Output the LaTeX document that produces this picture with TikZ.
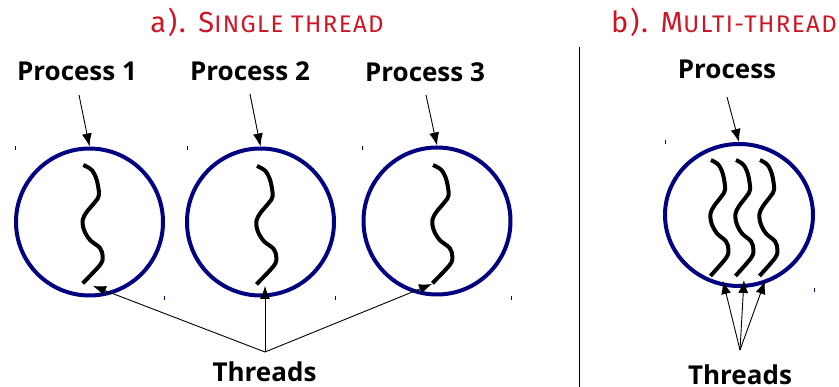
\documentclass[tikz,border=0pt]{standalone}
\usepackage{fontspec}
\usetikzlibrary{arrows.meta,shapes.geometric}
\newfontfamily\labfont{Open Sans}
\newfontfamily\headfont{Fira Sans}[LetterSpace=6]
\definecolor{ringblue}{RGB}{0,0,128}
\definecolor{headred}{RGB}{204,22,38}
% faked small capitals for the headings
\newcommand\smallcapstext[1]{{\fontsize{24}{24}\selectfont #1}}

\tikzset{
  head/.style={text=headred, font=\headfont\fontsize{29}{29}\selectfont, anchor=base, inner sep=0pt},
  lab/.style={font=\labfont\bfseries\fontsize{26}{26}\selectfont, anchor=base, inner sep=0pt},
  ring/.style={ellipse, draw=ringblue, line width=4pt, inner sep=0pt},
  arr/.style={line width=0.9pt, -{Latex[length=13pt,width=10pt]}},
  threadline/.style={line width=4pt, line cap=butt, line join=round},
  corner/.style={ringblue, line width=1pt},
  threadpic/.pic={
    \draw[threadline] plot[smooth, tension=0.55] coordinates {
      (0,0) (8.4,5) (13.4,15) (15.7,30) (11.7,37) (3.4,47) (-0.6,55)
      (0.7,65) (6.7,75) (16.7,83) (19.4,91.7) (16.7,100) (-0.6,118.3)};
  }
}

\begin{document}
\begin{tikzpicture}[x=1pt,y=-1pt]
\useasboundingbox (0,0) rectangle (839,387);

% headings
\node[head] (ta) at (267,32.5) {a). S\smallcapstext{INGLE THREAD}};
\node[head, anchor=base east] (tb) at (837,32.5) {b). M\smallcapstext{ULTI-THREAD}};

% divider
\coordinate (dtop) at (579,47);
\coordinate (dbot) at (579,387);
\draw[line width=1pt] (dtop) -- (dbot);

% single-threaded processes
\node[ring, minimum width=147pt, minimum height=147pt] (c1) at (89.5,222) {};
\node[ring, minimum width=147pt, minimum height=147pt] (c2) at (260.5,222) {};
\node[ring, minimum width=147pt, minimum height=147pt] (c3) at (437,221) {};

\pic at (83.3,165) {threadpic};
\pic at (257,166) {threadpic};
\pic at (433,165) {threadpic};

\node[lab] (p1) at (77,80.5) {Process 1};
\node[lab] (p2) at (250,80.5) {Process 2};
\node[lab] (p3) at (425,81.5) {Process 3};

\coordinate (p1s) at (79,95);
\coordinate (p2s) at (250,94);
\coordinate (p3s) at (426,95);
\draw[arr] (p1s) -- (c1.north);
\draw[arr] (p2s) -- (c2.north);
\draw[arr] (p3s) -- (c3.north);

\node[lab] (th1) at (264.5,381.5) {Threads};
\coordinate (apex1) at (265,352);
\coordinate (e1) at (93,286);
\coordinate (e2) at (265,286);
\coordinate (e3) at (432,284);
\draw[arr] (apex1) -- (e1);
\draw[arr] (apex1) -- (e2);
\draw[arr] (apex1) -- (e3);

% multi-threaded process
\node[ring, minimum width=148pt, minimum height=142pt] (c4) at (739,215) {};
\pic[yscale=0.98, xscale=0.9] at (711,160) {threadpic};
\pic[yscale=0.98, xscale=0.9] at (736,160) {threadpic};
\pic[yscale=0.98, xscale=0.9] at (760,160) {threadpic};

\node[lab] (p4) at (727,79) {Process};
\coordinate (p4s) at (727,97);
\draw[arr] (p4s) -- (c4.north);

\node[lab] (th2) at (740,385) {Threads};
\coordinate (apex2) at (740,350);
\coordinate (f1) at (723,281);
\coordinate (f2) at (744,280);
\coordinate (f3) at (765,281);
\draw[arr] (apex2) -- (f1);
\draw[arr] (apex2) -- (f2);
\draw[arr] (apex2) -- (f3);

% small corner marks
\foreach \cx/\cy in {15/146, 187/146, 362/146, 164/296, 335/296, 511/296, 665/140, 814/288}
  \draw[corner] (\cx,\cy) -- ++(0,4.5);
\end{tikzpicture}
\end{document}
